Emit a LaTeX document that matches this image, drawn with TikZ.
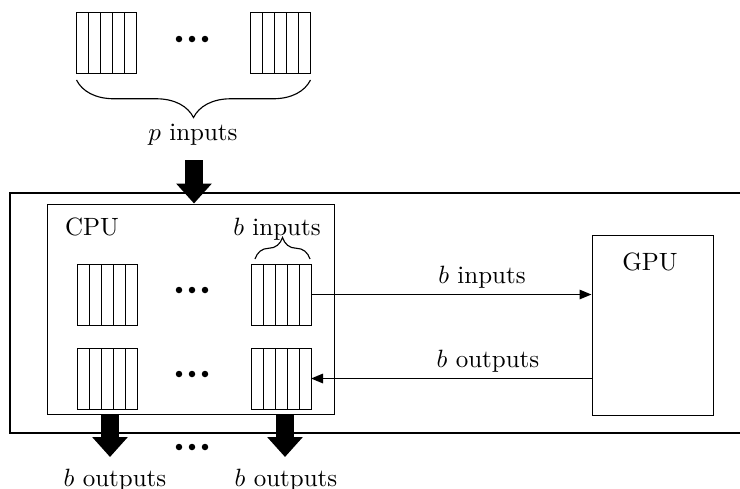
\documentclass[tikz,border=0pt]{standalone}
\usetikzlibrary{arrows.meta,decorations.pathreplacing,fit}
\begin{document}
\begin{tikzpicture}[x=0.4pt,y=-0.4pt,
  buffer/.style={draw, line width=0.4pt, minimum width=24pt, minimum height=24.4pt,
    inner sep=0pt, outer sep=0pt,
    path picture={\foreach \k in {1,...,4}{
      \draw[line width=0.4pt] ([xshift=\k*4.8pt]path picture bounding box.south west)
        -- ([xshift=\k*4.8pt]path picture bounding box.north west);}}},
  ellipsis/.style={minimum width=14pt, minimum height=3pt, inner sep=0pt,
    path picture={\foreach \k in {-1,0,1}{
      \fill ([xshift=\k*5.2pt]path picture bounding box.center) circle (1.3pt);}}},
  unit/.style={draw, line width=0.4pt, inner sep=0pt},
  label/.style={anchor=base, inner sep=0pt},
  bigarrow/.style={line width=7pt, -{Triangle[width=13.8pt,length=8pt]}},
  conn/.style={line width=0.6pt, -{Triangle[width=3.8pt,length=4.8pt]}},
  bracedn/.style={decorate, line width=0.45pt, decoration={brace, mirror, amplitude=#1}},
  braceup/.style={decorate, line width=0.45pt, decoration={brace, amplitude=#1}},
]
\useasboundingbox (0,0) rectangle (740,488);

% incoming input buffers
\node[buffer] (t1) at (106.5,42.5) {};
\node[buffer] (t2) at (280.5,42.5) {};
\node[ellipsis] (tdots) at (192,39) {};
\draw[bracedn=15pt] ([yshift=-2.8pt]t1.south west) -- ([yshift=-2.8pt]t2.south east);
\node[label] (pin-label) at (193,140) {$p$ inputs};

% host enclosure (open to the right)
\draw[line width=0.8pt] (740,193) -- (10,193) -- (10,433) -- (740,433);

% CPU with its buffers
\node[unit, fit={(47,204) (334,414)}] (cpu) {};
\node[label] (cpu-label) at (92,235) {CPU};
\node[buffer] (a1) at (107,294.5) {};
\node[buffer] (a2) at (281,294.5) {};
\node[ellipsis] (adots) at (192,290) {};
\node[buffer] (b1) at (107,378.5) {};
\node[buffer] (b2) at (281,378.5) {};
\node[ellipsis] (bdots) at (192,374) {};
\draw[braceup=8.6pt] ([xshift=1.6pt,yshift=2pt]a2.north west) -- ([xshift=-0.4pt,yshift=2pt]a2.north east);
\node[label] (bin-label) at (277,235) {$b$ inputs};

% GPU
\node[unit, fit={(592,235) (713,415)}] (gpu) {};
\node[label] (gpu-label) at (650,270) {GPU};

% transfers between CPU and GPU
\draw[conn] (a2.east) -- (a2.east -| gpu.west);
\node[label] (to-gpu) at (482,283) {$b$ inputs};
\draw[conn] (b2.east -| gpu.west) -- (b2.east);
\node[label] (from-gpu) at (488,367) {$b$ outputs};

% input stream into the CPU
\coordinate (pin) at (194,160);
\draw[bigarrow] (pin) -- (pin |- cpu.north);

% output streams
\coordinate (o1) at (110,457);
\coordinate (o2) at (285,457);
\draw[bigarrow] (o1 |- cpu.south) -- (o1);
\draw[bigarrow] (o2 |- cpu.south) -- (o2);
\node[ellipsis] (odots) at (192,447) {};
\node[label] (out1) at (115,486) {$b$ outputs};
\node[label] (out2) at (286,486) {$b$ outputs};
\end{tikzpicture}
\end{document}
